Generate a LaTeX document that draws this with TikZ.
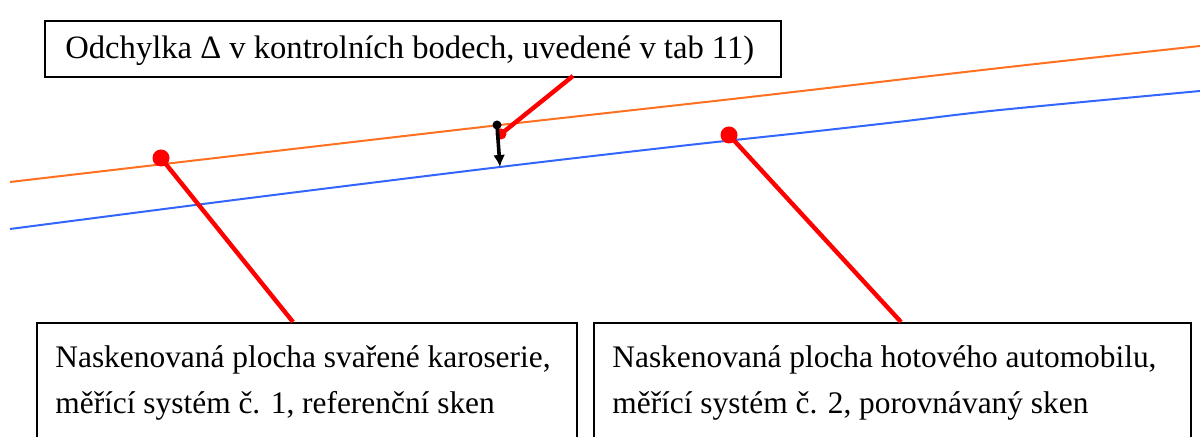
\documentclass[tikz,border=0pt]{standalone}
\usepackage{fontspec}
\setmainfont{Liberation Serif}
\usetikzlibrary{arrows.meta}
\definecolor{scanorange}{RGB}{255,112,32}
\definecolor{scanblue}{RGB}{51,102,255}
\definecolor{markred}{RGB}{255,0,0}
\tikzset{
  box/.style={draw=black, line width=1pt, fill=white, anchor=north west, inner sep=0pt},
  lbl/.style={anchor=base west, inner sep=0pt, font=\fontsize{15.7}{18}\selectfont},
  toplbl/.style={anchor=base west, inner sep=0pt, font=\fontsize{16.3}{19}\selectfont},
  orangeline/.style={draw=scanorange, line width=1pt},
  blueline/.style={draw=scanblue, line width=1pt},
  redline/.style={draw=markred, line width=2.2pt},
  bigdot/.style={circle, fill=markred, inner sep=0pt, minimum size=8.5pt},
  smalldot/.style={circle, fill=markred, inner sep=0pt, minimum size=5.5pt},
  blackdot/.style={circle, fill=black, inner sep=0pt, minimum size=4.5pt},
  devarrow/.style={draw=black, line width=1.8pt, -{Latex[length=6pt,width=6pt]}}
}
\begin{document}
\begin{tikzpicture}[x=0.5pt,y=-0.5pt]
\useasboundingbox (0,0) rectangle (1200,437);
\clip (0,0) rectangle (1200,437);
% scan surfaces
\draw[orangeline] plot[smooth] coordinates {(10,182) (250,154) (500,125) (750,97) (1000,68) (1200,46)};
\draw[blueline] plot[smooth] coordinates {(10,229) (250,198) (500,167) (680,146) (800,133) (900,121.7) (1000,110) (1200,91)};
% boxes
\node[box, minimum width=736*0.5pt, minimum height=56*0.5pt] (tb) at (44,20) {};
\node[toplbl] (tbt) at (65,59) {Odchylka Δ v kontrolních bodech, uvedené v tab 11)};
\node[box, minimum width=540*0.5pt, minimum height=160*0.5pt] (lb) at (36,322) {};
\node[lbl] (lbt1) at (55,368) {Naskenovaná plocha svařené karoserie,};
\node[lbl] (lbt2) at (55,414) {měřící systém č. 1, referenční sken};
\node[box, minimum width=597*0.5pt, minimum height=160*0.5pt] (rb) at (593,322) {};
\node[lbl] (rbt1) at (612,368) {Naskenovaná plocha hotového automobilu,};
\node[lbl] (rbt2) at (612,414) {měřící systém č. 2, porovnávaný sken};
% anchor points on boxes
\coordinate (tbp) at (573,76);
\coordinate (lbp) at (293,322);
\coordinate (rbp) at (901,322);
% markers
\node[blackdot] (bd) at (497,125) {};
\coordinate (bt) at (500,167);
\node[smalldot] (sd) at (501,134) {};
\node[bigdot] (ld) at (161,158) {};
\node[bigdot] (rd) at (729,135) {};
% connectors
\draw[devarrow] (bd.center) -- (bt);
\draw[redline] (sd.center) -- (tbp);
\draw[redline] (ld.center) -- (lbp);
\draw[redline] (rd.center) -- (rbp);
\end{tikzpicture}
\end{document}
